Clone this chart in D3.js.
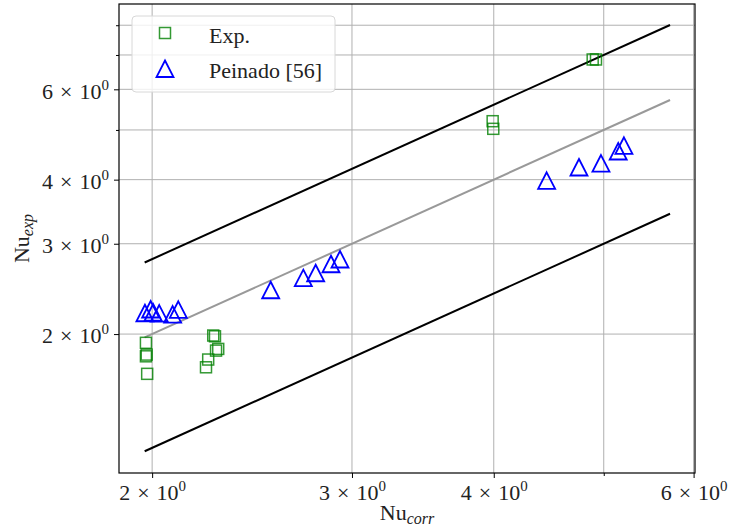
<!DOCTYPE html>
<html>
<head>
<meta charset="utf-8">
<script src="https://cdn.jsdelivr.net/npm/d3@7"></script>
<style>
  body { margin: 0; background: #fff; }
  svg text { font-family: "Liberation Serif", "DejaVu Serif", serif; fill: #222; }
</style>
</head>
<body>
<div id="chart"></div>
<script>
// data
var expCorr = [1.975, 1.978, 1.975, 1.980, 2.264, 2.272, 2.287, 2.277, 2.241, 2.231, 3.991, 3.996, 4.889, 4.922];
var expExp  = [1.923, 1.824, 1.810, 1.673, 1.987, 1.980, 1.871, 1.857, 1.784, 1.723, 5.200, 5.025, 6.860, 6.860];

var peiCorr = [1.994, 1.971, 2.029, 2.109, 2.085, 2.004, 2.544, 2.718, 2.787, 2.875, 2.928, 4.453, 4.755, 4.972, 5.149, 5.209];
var peiExp  = [2.233, 2.196, 2.193, 2.230, 2.183, 2.203, 2.435, 2.570, 2.628, 2.736, 2.795, 3.979, 4.224, 4.300, 4.539, 4.656];

var lineX = [1.97, 5.72];          // range of the reference lines
var lineFactors = [1.4, 1.0, 0.6]; // +40%, y = x, -40%

var xMajor = [2, 3, 4, 6];
var xMinor = [5];
var yMajor = [2, 3, 4, 6];
var yMinor = [5, 7, 8];

var svgWidth = 731;
var svgHeight = 530;
var margin = { top: 4, right: 36, bottom: 57, left: 119 };
var width = svgWidth - margin.left - margin.right;
var height = svgHeight - margin.top - margin.bottom;

var svg = d3.select("#chart")
    .append("svg")
    .attr("width", svgWidth)
    .attr("height", svgHeight);

var chartGroup = svg.append("g")
    .attr("transform", `translate(${margin.left},${margin.top})`);

var x = d3.scaleLog().domain([1.870, 6.017]).range([0, width]);
var y = d3.scaleLog().domain([1.072, 8.80]).range([height, 0]);

// grid, major and minor
var gridColor = "#b0b0b0";
chartGroup.selectAll(".vgrid")
    .data(xMajor.concat(xMinor))
    .enter().append("line")
    .attr("x1", d => x(d)).attr("x2", d => x(d))
    .attr("y1", 0).attr("y2", height)
    .attr("stroke", gridColor).attr("stroke-width", 1);

chartGroup.selectAll(".hgrid")
    .data(yMajor.concat(yMinor))
    .enter().append("line")
    .attr("y1", d => y(d)).attr("y2", d => y(d))
    .attr("x1", 0).attr("x2", width)
    .attr("stroke", gridColor).attr("stroke-width", 1);

// reference lines
var line = d3.line().x(d => x(d[0])).y(d => y(d[1]));
lineFactors.forEach(function(f) {
    chartGroup.append("path")
        .datum(lineX.map(v => [v, v * f]))
        .attr("d", line)
        .attr("fill", "none")
        .attr("stroke", f === 1 ? "#999" : "#000")
        .attr("stroke-width", 2);
});

// markers
var sq = 11;
var triPath = "M0,-8.5L8.5,8L-8.5,8Z";
chartGroup.selectAll(".sq")
    .data(expCorr.map((v, i) => [v, expExp[i]]))
    .enter().append("rect")
    .attr("x", d => x(d[0]) - sq / 2)
    .attr("y", d => y(d[1]) - sq / 2)
    .attr("width", sq).attr("height", sq)
    .attr("fill", "none")
    .attr("stroke", "green")
    .attr("stroke-opacity", 0.8)
    .attr("stroke-width", 1.5);

chartGroup.selectAll(".tri")
    .data(peiCorr.map((v, i) => [v, peiExp[i]]))
    .enter().append("path")
    .attr("d", triPath)
    .attr("transform", d => `translate(${x(d[0])},${y(d[1])})`)
    .attr("fill", "none")
    .attr("stroke", "blue")
    .attr("stroke-width", 1.8);

// axes
function sciLabel(sel) {
    sel.each(function(d) {
        var t = d3.select(this);
        t.text(null);
        t.append("tspan").text(d);
        t.append("tspan").attr("dx", 7).text("\u00d7");
        t.append("tspan").attr("dx", 7).text("10");
        t.append("tspan").attr("dy", -9).attr("font-size", "15px").text("0");
    });
}

var xAxis = chartGroup.append("g")
    .attr("transform", `translate(0,${height})`)
    .call(d3.axisBottom(x).tickValues(xMajor).tickSize(5).tickPadding(6).tickFormat(d => d));
xAxis.selectAll(".tick text").attr("font-size", "22px").call(sciLabel);

var yAxis = chartGroup.append("g")
    .call(d3.axisLeft(y).tickValues(yMajor).tickSize(5).tickPadding(5).tickFormat(d => d));
yAxis.selectAll(".tick text").attr("font-size", "22px").attr("dy", "0.4em").call(sciLabel);

chartGroup.append("g")
    .attr("transform", `translate(0,${height})`)
    .call(d3.axisBottom(x).tickValues(xMinor).tickSize(3).tickFormat(""));
chartGroup.append("g")
    .call(d3.axisLeft(y).tickValues(yMinor).tickSize(3).tickFormat(""));

chartGroup.selectAll(".domain").remove();
chartGroup.selectAll(".tick line").attr("stroke", "#000").attr("stroke-width", 1);

// frame
chartGroup.append("rect")
    .attr("width", width).attr("height", height)
    .attr("fill", "none").attr("stroke", "#000").attr("stroke-width", 1.2);

// axis labels
var xl = svg.append("text")
    .attr("x", margin.left + width / 2).attr("y", 520)
    .attr("text-anchor", "middle").attr("font-size", "22px");
xl.append("tspan").text("Nu");
xl.append("tspan").attr("dy", 4).attr("font-size", "16px").attr("font-style", "italic").text("corr");

var yl = svg.append("text")
    .attr("transform", `translate(29,${margin.top + height / 2}) rotate(-90)`)
    .attr("text-anchor", "middle").attr("font-size", "22px");
yl.append("tspan").text("Nu");
yl.append("tspan").attr("dy", 4).attr("font-size", "16px").attr("font-style", "italic").text("exp");

// legend
var legend = svg.append("g");
legend.append("rect")
    .attr("x", 132).attr("y", 16).attr("width", 203).attr("height", 76)
    .attr("rx", 4)
    .attr("fill", "#fff").attr("fill-opacity", 0.8)
    .attr("stroke", "#d8d8d8").attr("stroke-width", 1);
legend.append("rect")
    .attr("x", 165 - sq / 2).attr("y", 33 - sq / 2)
    .attr("width", sq).attr("height", sq)
    .attr("fill", "none").attr("stroke", "green").attr("stroke-opacity", 0.8).attr("stroke-width", 1.5);
legend.append("path")
    .attr("d", triPath)
    .attr("transform", "translate(165,69)")
    .attr("fill", "none").attr("stroke", "blue").attr("stroke-width", 1.8);
legend.append("text").attr("x", 209).attr("y", 43).attr("font-size", "22px").text("Exp.");
legend.append("text").attr("x", 209).attr("y", 78).attr("font-size", "22px").text("Peinado [56]");
</script>
</body>
</html>
